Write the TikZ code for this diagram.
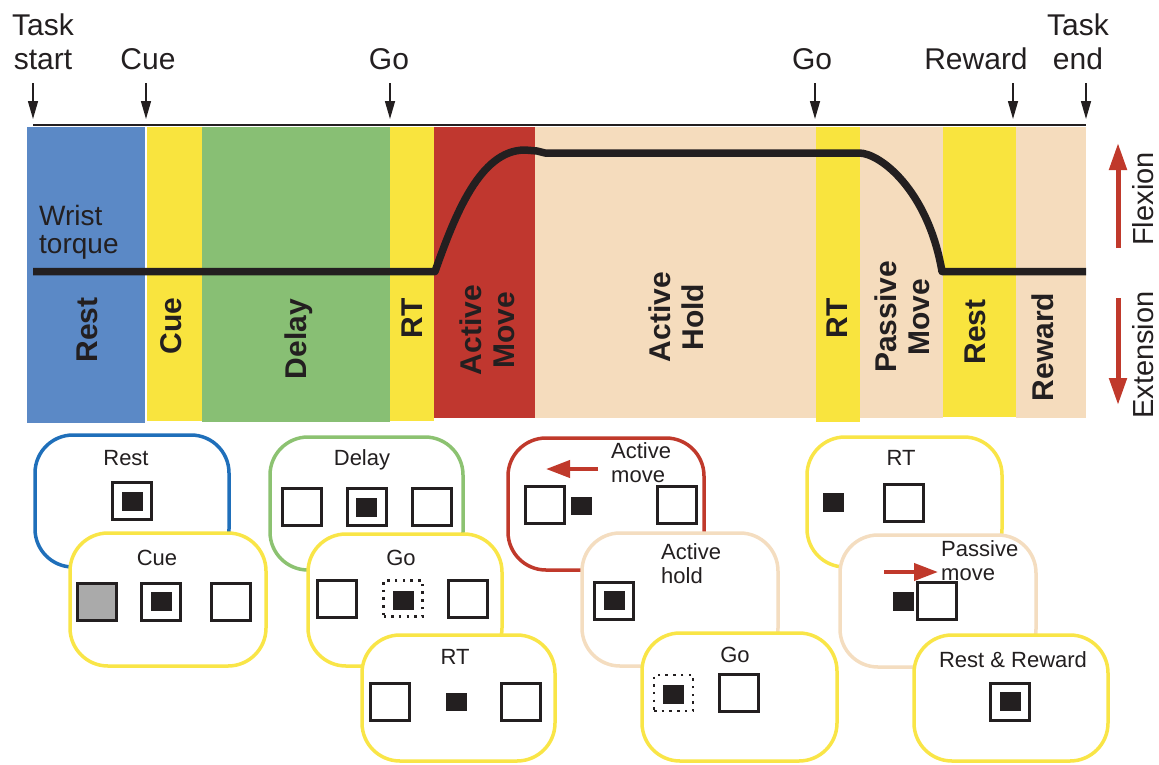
\documentclass[tikz,border=0pt]{standalone}
\usepackage{fontspec}
\setmainfont{Liberation Sans}
\usetikzlibrary{arrows.meta}
\definecolor{cblue}{HTML}{5B89C6}
\definecolor{cyellow}{HTML}{F9E43E}
\definecolor{cgreen}{HTML}{88BF74}
\definecolor{cred}{HTML}{C0372F}
\definecolor{cbeige}{HTML}{F5DCBD}
\definecolor{pblue}{HTML}{1F6FBA}
\definecolor{pyellow}{HTML}{F9E547}
\definecolor{pgreen}{HTML}{8CC271}
\definecolor{pred}{HTML}{C0392B}
\definecolor{pbeige}{HTML}{F4DDC0}
\definecolor{ink}{HTML}{231F20}
\definecolor{cgray}{HTML}{AAAAAA}
\begin{document}
\begin{tikzpicture}[x=1pt,y=-1pt,
  toplabel/.style={font=\fontsize{30}{34}\selectfont, text=ink, align=center, anchor=base, inner sep=0},
  bandlabel/.style={font=\fontsize{30}{33}\selectfont\bfseries, text=ink, align=center, rotate=90, inner sep=0, text depth=0pt},
  sidelabel/.style={font=\fontsize{29}{33}\selectfont, text=ink, rotate=90, inner sep=0, text depth=0pt},
  marker/.style={draw=ink, line width=1.5, -{Triangle[length=18pt,width=10pt]}},
  redarrow/.style={draw=pred, line width=5, -{Triangle[length=27pt,width=17pt]}},
  smallred/.style={draw=pred, line width=4, -{Triangle[length=24pt,width=17pt]}},
  torque/.style={draw=ink, line width=7.5, line join=round},
  panel/.style={draw=#1, line width=3.5, rounded corners=38, fill=white},
  ptitle/.style={font=\fontsize{22}{23.5}\selectfont, text=ink, anchor=base, inner sep=0, align=center},
  ptitleL/.style={font=\fontsize{22}{23.5}\selectfont, text=ink, anchor=base west, inner sep=0, align=left},
  sq/.style={draw=ink, line width=3, fill=white, minimum width=39, minimum height=37, inner sep=0},
  graysq/.style={sq, fill=cgray},
  dotsq/.style={draw=ink, line width=2.5, dash pattern=on 2.5pt off 5.2pt, minimum width=39, minimum height=36, inner sep=0},
  blk/.style={fill=ink, minimum width=21, minimum height=19, inner sep=0}
]
\useasboundingbox (0,0) rectangle (1159,764);

% ---------- top labels and markers ----------
\node[toplabel] (lstart) at (43,69) {Task\\start};
\node[toplabel] (lcue) at (148,69) {Cue};
\node[toplabel] (lgo1) at (389,69) {Go};
\node[toplabel] (lgo2) at (812,69) {Go};
\node[toplabel] (lrew) at (976,69) {Reward};
\node[toplabel] (lend) at (1078,69) {Task\\end};
\foreach \n/\x in {a/33,b/146,c/390,d/815,e/1013,f/1086}{
  \coordinate (m\n0) at (\x,83);
  \coordinate (m\n1) at (\x,119);
  \draw[marker] (m\n0) -- (m\n1);
}

% ---------- bands ----------
\fill[cblue] (27,127) rectangle (145,423);
\fill[cyellow] (146.5,127) rectangle (202,421);
\fill[cgreen] (202,127) rectangle (390,422);
\fill[cyellow] (390,127) rectangle (434,421);
\fill[cred] (434,127) rectangle (535,418);
\fill[cbeige] (535,127) rectangle (816,418);
\fill[cyellow] (816,127) rectangle (859.5,422);
\fill[cbeige] (859.5,127) rectangle (943,418);
\fill[cyellow] (943,127) rectangle (1015.5,417);
\fill[cbeige] (1015.5,127) rectangle (1086,418);

\coordinate (tl0) at (33,125);
\coordinate (tl1) at (1086,125);
\draw[ink, line width=2.5] (tl0) -- (tl1);

% ---------- band labels ----------
\node[bandlabel] (bRest) at (87,330) {Rest};
\node[bandlabel] (bCue) at (171,326) {Cue};
\node[bandlabel] (bDelay) at (296,339) {Delay};
\node[bandlabel] (bRT) at (412,318) {RT};
\node[bandlabel] (bAM) at (487,330) {Active\\Move};
\node[bandlabel] (bAH) at (676,317) {Active\\Hold};
\node[bandlabel] (bRT2) at (837,318) {RT};
\node[bandlabel] (bPM) at (902,317) {Passive\\Move};
\node[bandlabel] (bRest2) at (975,332) {Rest};
\node[bandlabel] (bRew) at (1043,347) {Reward};

\node[font=\fontsize{28}{28}\selectfont, text=ink, anchor=base west, align=left, inner sep=0] (wt) at (39,253) {Wrist\\torque};

% ---------- torque trace ----------
\coordinate (tq0) at (33,271.5);
\coordinate (tq1) at (435,271.5);
\coordinate (tq2) at (525,150);
\coordinate (tq3) at (545,153);
\coordinate (tq4) at (859,153);
\coordinate (tq5) at (942,271.5);
\coordinate (tq6) at (1086,271.5);
\draw[torque] (tq0) -- (tq1) .. controls (455,215) and (480,150) .. (tq2) -- (537,151) -- (tq3) -- (tq4)
  .. controls (880,153) and (928,190) .. (tq5) -- (tq6);

% ---------- flexion / extension ----------
\coordinate (fx0) at (1118,248);
\coordinate (fx1) at (1118,143);
\coordinate (ex0) at (1118,298);
\coordinate (ex1) at (1118,405);
\draw[redarrow] (fx0) -- (fx1);
\draw[redarrow] (ex0) -- (ex1);
\node[sidelabel] (flex) at (1143,199) {Flexion};
\node[sidelabel] (ext) at (1143,355) {Extension};

% ---------- panels ----------
% Rest
\draw[panel=pblue] (35,435) rectangle (229,567);
\node[ptitle] (tRest) at (126,465) {Rest};
\node[sq] (s1) at (132,501) {};
\node[blk] (s1i) at (s1) {};
% Cue
\draw[panel=pyellow] (70,533) rectangle (266,666);
\node[ptitle] (tCue) at (157,565) {Cue};
\node[graysq] (s2a) at (96.5,601.5) {};
\node[sq] (s2b) at (161,601.5) {};
\node[blk] (s2bi) at (s2b) {};
\node[sq] (s2c) at (230.5,601.5) {};
% Delay
\draw[panel=pgreen] (270,437) rectangle (463,570);
\node[ptitle] (tDelay) at (362,465) {Delay};
\node[sq] (s3a) at (301.5,507) {};
\node[sq] (s3b) at (366.5,507) {};
\node[blk] (s3bi) at (s3b) {};
\node[sq] (s3c) at (432,507) {};
% Go
\draw[panel=pyellow] (308,534) rectangle (502,666);
\node[ptitle] (tGo) at (401,565) {Go};
\node[sq] (s4a) at (336.5,598.5) {};
\node[dotsq] (s4b) at (403,598.5) {};
\node[blk] (s4bi) at (403,600) {};
\node[sq] (s4c) at (468,598.5) {};
% RT
\draw[panel=pyellow] (362,635) rectangle (555,761);
\node[ptitle] (tRT) at (455,664) {RT};
\node[sq] (s5a) at (390,701.5) {};
\node[blk, minimum height=18] (s5b) at (456.5,702) {};
\node[sq] (s5c) at (521,701.5) {};
% Active move
\draw[panel=pred] (508,438) rectangle (704,570);
\node[ptitleL] (tAM) at (611,482) {Active\\move};
\coordinate (am0) at (598,469);
\coordinate (am1) at (546,469);
\draw[smallred] (am0) -- (am1);
\node[sq] (s6a) at (544.5,504.5) {};
\node[blk, minimum height=18] (s6b) at (581.5,506) {};
\node[sq] (s6c) at (677,504.5) {};
% Active hold
\draw[panel=pbeige] (582,533) rectangle (778,666);
\node[ptitleL] (tAH) at (661,583) {Active\\hold};
\node[sq] (s7) at (614,600.5) {};
\node[blk] (s7i) at (s7) {};
% Go 2
\draw[panel=pyellow] (642,633) rectangle (837,761);
\node[ptitle] (tGo2) at (735,662) {Go};
\node[dotsq] (s8a) at (673.5,693) {};
\node[blk] (s8ai) at (673.5,694) {};
\node[sq] (s8b) at (739,693) {};
% RT 2
\draw[panel=pyellow] (807,437) rectangle (1002,567);
\node[ptitle] (tRT2) at (901,465) {RT};
\node[blk] (s9a) at (833,502.5) {};
\node[sq] (s9b) at (903.5,502.5) {};
% Passive move
\draw[panel=pbeige] (840,535) rectangle (1036,667);
\node[ptitleL] (tPM) at (941,580) {Passive\\move};
\coordinate (pm0) at (884,572);
\coordinate (pm1) at (938,572);
\draw[smallred] (pm0) -- (pm1);
\node[blk] (s10a) at (903,601.5) {};
\node[sq] (s10b) at (937,601) {};
% Rest & Reward
\draw[panel=pyellow] (914,635) rectangle (1108,761);
\node[ptitle] (tRR) at (1013,667) {Rest \& Reward};
\node[sq] (s11) at (1010,701.5) {};
\node[blk] (s11i) at (s11) {};
\end{tikzpicture}
\end{document}
